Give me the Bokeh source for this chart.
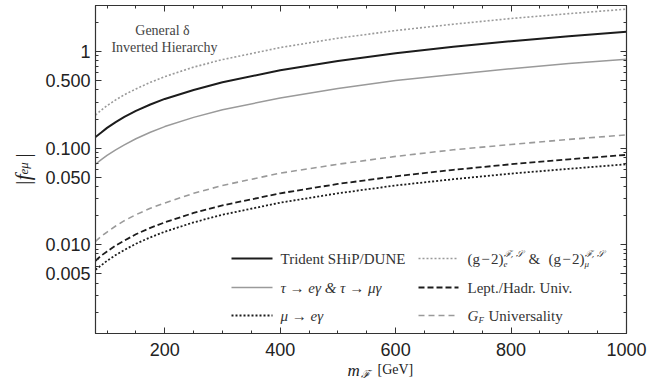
from bokeh.plotting import figure
from bokeh.models import (FixedTicker, LinearAxis, LogAxis, Label, Arrow, Range1d)
from bokeh.embed import file_html
from bokeh.resources import INLINE
import math

# ---- data ----
mass = [80, 90, 100, 115, 130, 150, 175, 200, 250, 300, 400, 500, 600, 700, 800, 900, 1000]
trident = [0.13, 0.145, 0.162, 0.186, 0.21, 0.243, 0.283, 0.323, 0.40, 0.48, 0.64, 0.80, 0.96, 1.12, 1.28, 1.44, 1.60]
tau_eg = [0.068, 0.076, 0.084, 0.096, 0.108, 0.125, 0.146, 0.167, 0.208, 0.25, 0.33, 0.415, 0.50, 0.58, 0.665, 0.75, 0.83]
g_minus_2 = [0.22, 0.247, 0.275, 0.316, 0.357, 0.41, 0.48, 0.55, 0.69, 0.825, 1.10, 1.375, 1.65, 1.92, 2.20, 2.47, 2.75]
lept_hadr = [0.0068, 0.0077, 0.0085, 0.0098, 0.011, 0.0128, 0.0149, 0.017, 0.0213, 0.0255, 0.034, 0.0425, 0.051, 0.0595, 0.068, 0.0765, 0.085]
mu_eg = [0.0055, 0.0061, 0.0068, 0.0078, 0.0088, 0.0102, 0.0119, 0.0136, 0.017, 0.0204, 0.0272, 0.034, 0.041, 0.0476, 0.0544, 0.061, 0.068]
gf_univ = [0.0108, 0.0122, 0.0135, 0.0156, 0.0177, 0.0204, 0.0238, 0.027, 0.034, 0.041, 0.055, 0.068, 0.082, 0.096, 0.109, 0.123, 0.137]

x_major = [200, 400, 600, 800, 1000]
x_minor = [100, 150, 250, 300, 350, 450, 500, 550, 650, 700, 750, 850, 900, 950]
y_major = [0.005, 0.01, 0.05, 0.1, 0.5, 1]
y_major_labels = ["0.005", "0.010", "0.050", "0.100", "0.500", "1"]
y_minor = [0.002, 0.003, 0.004, 0.006, 0.007, 0.008, 0.009,
           0.02, 0.03, 0.04, 0.06, 0.07, 0.08, 0.09,
           0.2, 0.3, 0.4, 0.6, 0.7, 0.8, 0.9, 2, 3]

BLACK = "#1c1c1c"
GRAY = "#9a9a9a"
SERIF = "Liberation Serif"
SANS = "Liberation Sans"
NB = "\u00a0"
HS = "\u200a"

W, H = 670, 390
FL, FR, FT, FB = 95, 626, 5, 333  # frame edges in page px
p = figure(width=W, height=H, x_axis_type="linear", y_axis_type="log",
           x_range=Range1d(80, 1000), y_range=Range1d(0.0012, 3.0),
           output_backend="svg", toolbar_location=None,
           min_border_left=FL, min_border_right=W - FR,
           min_border_top=FT, min_border_bottom=H - FB)
p.grid.visible = False
p.outline_line_color = "#333333"
p.outline_line_width = 1.2
p.background_fill_color = "white"
p.border_fill_color = "white"

def style_axis(ax):
    ax.axis_line_color = "#333333"
    ax.major_tick_in = 6
    ax.major_tick_out = 0
    ax.minor_tick_in = 3
    ax.minor_tick_out = 0
    ax.major_tick_line_color = "#333333"
    ax.minor_tick_line_color = "#333333"
    ax.major_label_text_font = SANS
    ax.major_label_text_font_size = "18px"
    ax.major_label_text_color = "#222222"
    ax.major_label_standoff = 6

p.xaxis.ticker = FixedTicker(ticks=x_major, minor_ticks=x_minor)
p.yaxis.ticker = FixedTicker(ticks=y_major, minor_ticks=y_minor)
p.yaxis.major_label_overrides = {v: s for v, s in zip(y_major, y_major_labels)}
style_axis(p.xaxis[0])
style_axis(p.yaxis[0])
p.xaxis.major_label_standoff = 9
p.yaxis.major_label_standoff = 5
p.yaxis.axis_label = "|f" + NB * 3 + "|"
p.yaxis.axis_label_text_font = SERIF
p.yaxis.axis_label_text_font_style = "italic"
p.yaxis.axis_label_text_font_size = "21px"
p.yaxis.axis_label_text_color = "#222222"
p.yaxis.axis_label_standoff = 7

top = LinearAxis(ticker=FixedTicker(ticks=x_major, minor_ticks=x_minor))
style_axis(top)
top.major_label_overrides = {v: "" for v in x_major}
top.major_label_standoff = 0
p.add_layout(top, "above")
right = LogAxis(ticker=FixedTicker(ticks=y_major, minor_ticks=y_minor))
style_axis(right)
right.major_label_overrides = {v: "" for v in y_major}
right.major_label_standoff = 0
p.add_layout(right, "right")

# ---- curves ----
p.line(mass, g_minus_2, line_color=GRAY, line_width=1.6, line_dash="2 2")
p.line(mass, trident, line_color=BLACK, line_width=2)
p.line(mass, tau_eg, line_color=GRAY, line_width=1.5)
p.line(mass, gf_univ, line_color=GRAY, line_width=1.6, line_dash="6 4")
p.line(mass, lept_hadr, line_color=BLACK, line_width=1.8, line_dash="6 3")
p.line(mass, mu_eg, line_color=BLACK, line_width=1.8, line_dash="2 2")

def lab(text, x, y, size=15, style="normal", color="#333333", align="left",
        angle=0.0, font=SERIF, baseline="middle", place=None):
    lb = Label(x=x, y=y, x_units="screen", y_units="screen",
               text=text, text_font=font, text_font_size=f"{size}px",
               text_font_style=style, text_color=color, text_align=align,
               text_baseline=baseline, angle=angle)
    if place is None:
        p.add_layout(lb)
    else:
        p.add_layout(lb, place)

def c(px, py, text, **kw):
    # label inside the frame, page pixel position
    lab(text, px - FL, FB - py, **kw)

# annotation
c(162, 30, "General δ", size=14, align="center", color="#444444")
c(164, 47, "Inverted Hierarchy", size=14, align="center", color="#444444")

# axis title pieces living in the side panels (positions relative to their slot)
lab("[GeV]", 377 - FL, 4, size=14, color="#222222", place="below")
lab("m", 347 - 626, 333 - 370, size=17, style="italic", color="#222222", place="right")
lab("ℱ", 360 - 638, 333 - 374, size=11, style="italic", color="#222222",
    font="DejaVu Serif", place="right")
lab("eμ", 22 - 646, 333 - 174, size=13, style="italic", color="#222222",
    angle=math.pi / 2, place="right")

# legend samples
def sample(px0, px1, py, color, width, dash):
    p.add_layout(Arrow(x_start=px0 - FL, y_start=FB - py, x_end=px1 - FL, y_end=FB - py,
                       start_units="screen", end_units="screen", end=None,
                       line_color=color, line_width=width, line_dash=dash))

r1, r2, r3 = 258, 287, 315
sample(231, 272, r1, BLACK, 2, "solid")
sample(231, 272, r2, GRAY, 1.5, "solid")
sample(231, 272, r3, BLACK, 1.8, "2 2")
sample(418, 458, r1, GRAY, 1.6, "2 2")
sample(418, 458, r2, BLACK, 1.8, "6 3")
sample(418, 458, r3, GRAY, 1.6, "6 4")

c(280, r1, "Trident SHiP/DUNE")
c(280, r2, "τ → eγ & τ → μγ", style="italic")
c(280, r3, "μ → eγ", style="italic")
c(467, r1, "(g" + HS + "−" + HS + "2)")
c(503, r1 + 5, "e", size=9, style="italic")
c(503, r1 - 5, "ℱ, 𝒮", size=9, style="italic", font="DejaVu Serif")
c(528, r1, "&")
c(548, r1, "(g" + HS + "−" + HS + "2)")
c(584, r1 + 5, "μ", size=9, style="italic")
c(584, r1 - 5, "ℱ, 𝒮", size=9, style="italic", font="DejaVu Serif")
c(467, r2, "Lept./Hadr. Univ.")
c(467, r3, "G", style="italic")
c(478, r3 + 4, "F", size=9, style="italic")
c(488, r3, "Universality")

open("out.html", "w").write(file_html(p, INLINE))
